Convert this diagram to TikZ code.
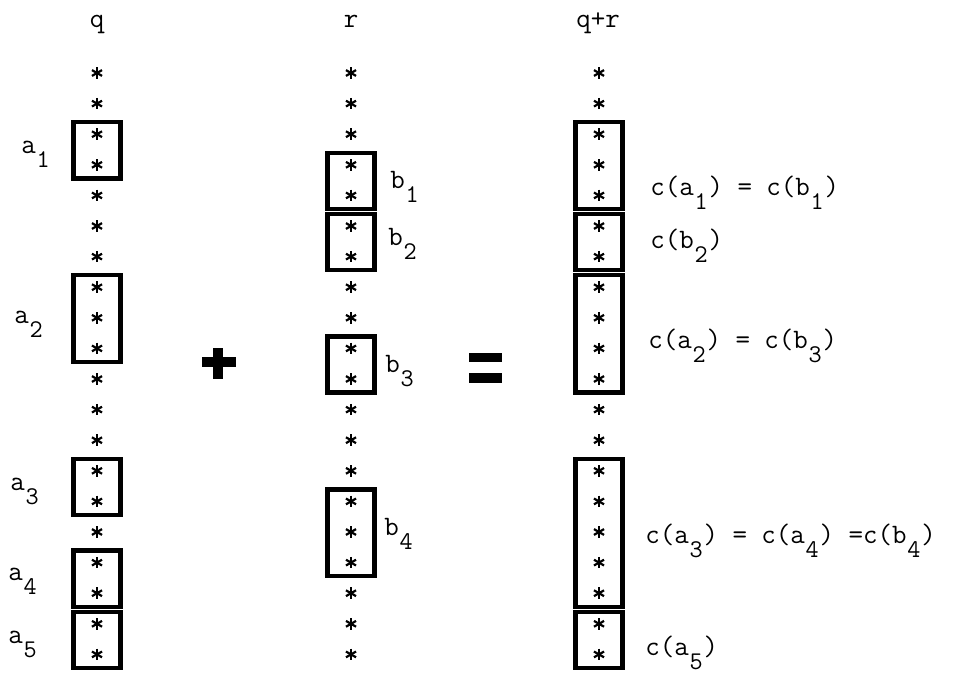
\documentclass[tikz,border=0pt]{standalone}
\usetikzlibrary{calc}
\tikzset{
  ast/.style={circle, inner sep=0pt, minimum size=6.2pt},
  astline/.style={line width=1.25pt},
  grp/.style={line width=2.5pt},
  lbl/.style={inner sep=0pt, anchor=base west, font=\ttfamily\fontsize{16}{19}\selectfont},
  head/.style={inner sep=0pt, anchor=base, font=\ttfamily\fontsize{16}{19}\selectfont},
  bar/.style={line width=5.4pt},
}
\newcommand{\lo}[1]{\raisebox{-8.5pt}{\makebox[0.525em]{\fontsize{14.5}{14.5}\selectfont #1}}}
\newcommand{\grp}[2]{\draw[grp] ($(#1)+(-23.5,-12)$) rectangle ($(#2)+(23.5,13.5)$);}

\begin{document}
\begin{tikzpicture}[x=0.2mm,y=-0.2mm]
        \useasboundingbox (0,0) rectangle (957,683);
        %stars
        \foreach \i [evaluate=\i as \yy using 73+30.6*\i] in {0,...,19} {
          \node[ast] (q\i) at (97,\yy) {};
          \node[ast] (r\i) at (351,\yy) {};
          \node[ast] (s\i) at (599,\yy) {};
        }
        \foreach \c in {q,r,s} {
          \foreach \i in {0,...,19} {
            \draw[astline] (\c\i.90) -- (\c\i.270);
            \draw[astline] (\c\i.30) -- (\c\i.210);
            \draw[astline] (\c\i.150) -- (\c\i.330);
          }
        }

        %boxes
        \grp{q2}{q3}
        \grp{q7}{q9}
        \grp{q13}{q14}
        \grp{q16}{q17}
        \grp{q18}{q19}

        \grp{r3}{r4}
        \grp{r5}{r6}
        \grp{r9}{r10}
        \grp{r14}{r16}

        \grp{s2}{s4}
        \grp{s5}{s6}
        \grp{s7}{s10}
        \grp{s13}{s17}
        \grp{s18}{s19}

        %plus and equals
        \draw[bar] (202,362) -- (236,362);
        \draw[bar] (218,348) -- (218,379);
        \draw[bar] (469,357.5) -- (502,357.5);
        \draw[bar] (469,378) -- (502,378);

        %labels
        \node[head] (hq) at (97,27) {q};
        \node[head] (hr) at (351,27) {r};
        \node[head] (hs) at (598,27) {q+r};

        \node[lbl] (la1) at (21,153) {a\lo{1}};
        \node[lbl] (la2) at (14,323) {a\lo{2}};
        \node[lbl] (la3) at (10,490) {a\lo{3}};
        \node[lbl] (la4) at (8,580) {a\lo{4}};
        \node[lbl] (la5) at (8,643) {a\lo{5}};

        \node[lbl] (lb1) at (390,188) {b\lo{1}};
        \node[lbl] (lb2) at (388,245) {b\lo{2}};
        \node[lbl] (lb3) at (385,372) {b\lo{3}};
        \node[lbl] (lb4) at (384,535) {b\lo{4}};

        \node[lbl] (lc1) at (650,195) {c(a\lo{1}) = c(b\lo{1})};
        \node[lbl] (lc2) at (650,248) {c(b\lo{2})};
        \node[lbl] (lc3) at (648,348) {c(a\lo{2}) = c(b\lo{3})};
        \node[lbl] (lc4) at (645,543) {c(a\lo{3}) = c(a\lo{4}) =c(b\lo{4})};
        \node[lbl] (lc5) at (645,655) {c(a\lo{5})};
\end{tikzpicture}
\end{document}
